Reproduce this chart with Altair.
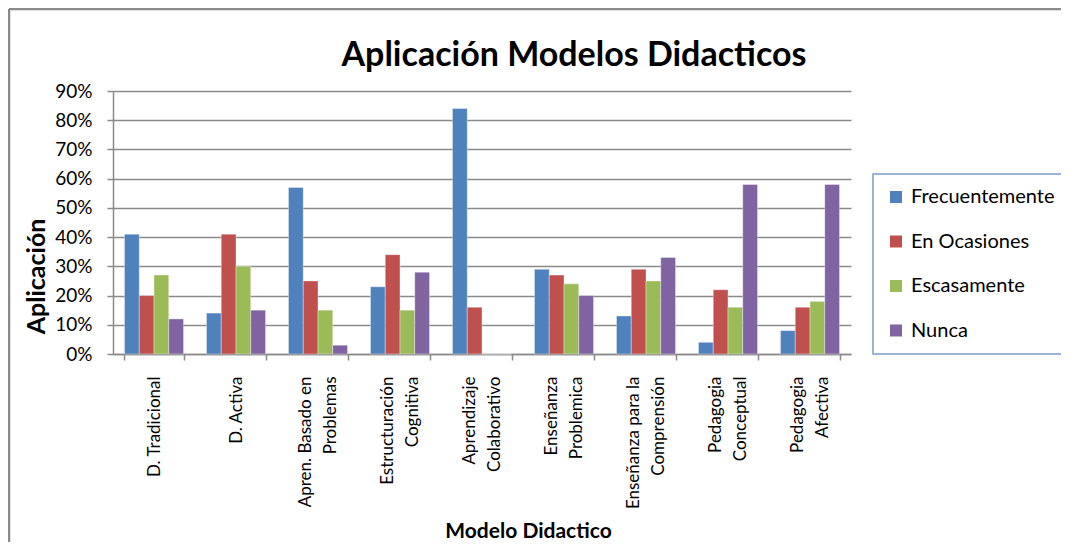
import altair as alt
import pandas as pd

chart_title = "Aplicación Modelos Didacticos"
categories = [
    "D. Tradicional",
    "D. Activa",
    "Apren. Basado en|Problemas",
    "Estructuración|Cognitiva",
    "Aprendizaje|Colaborativo",
    "Enseñanza|Problemica",
    "Enseñanza para la|Comprensión",
    "Pedagogia|Conceptual",
    "Pedagogia|Afectiva",
]
series = ["Frecuentemente", "En Ocasiones", "Escasamente", "Nunca"]
frecuentemente = [0.41, 0.14, 0.57, 0.23, 0.84, 0.29, 0.13, 0.04, 0.08]
en_ocasiones = [0.20, 0.41, 0.25, 0.34, 0.16, 0.27, 0.29, 0.22, 0.16]
escasamente = [0.27, 0.30, 0.15, 0.15, 0.00, 0.24, 0.25, 0.16, 0.18]
nunca = [0.12, 0.15, 0.03, 0.28, 0.00, 0.20, 0.33, 0.58, 0.58]
colors = ["#4F81BD", "#C0504D", "#9BBB59", "#8064A2"]
y_ticks = [0, 0.1, 0.2, 0.3, 0.4, 0.5, 0.6, 0.7, 0.8, 0.9]

rows = []
for name, vals in zip(series, [frecuentemente, en_ocasiones, escasamente, nunca]):
    for c, v in zip(categories, vals):
        rows.append({"modelo": c, "serie": name, "valor": v})
df = pd.DataFrame(rows)

FONT = "Lato"
GRAY = "#8a8a8a"

bars = alt.Chart(df).mark_bar(stroke="#ffffff", strokeWidth=0.6, strokeOpacity=0.6).encode(
    x=alt.X(
        "modelo:N",
        sort=categories,
        scale=alt.Scale(paddingInner=0.28, paddingOuter=0.14),
        axis=alt.Axis(
            title="Modelo Didactico",
            labelExpr="datum.value ? split(datum.value, '|') : ''",
            labelAngle=270,
            labelAlign="right",
            labelBaseline="middle",
            labelFontSize=17,
            labelLineHeight=25,
            labelPadding=16,
            labelOffset={"condition": {"test": "datum.value && indexof(datum.value, '|') >= 0", "value": -12.5}, "value": 0},
            tickSize=6,
            tickBand="extent",
            titleFontSize=21,
            titleFontWeight="bold",
            titleX=415,
            titleY=177,
            titleAnchor="middle",
            titleAlign="center",
            titleBaseline="middle",
        ),
    ),
    xOffset=alt.XOffset("serie:N", sort=series, scale=alt.Scale(paddingInner=0, paddingOuter=0)),
    y=alt.Y(
        "valor:Q",
        scale=alt.Scale(domain=[0, 0.9], nice=False),
        axis=alt.Axis(
            title="Aplicación",
            values=y_ticks,
            format=".0%",
            labelFontSize=19,
            labelPadding=15,
            tickSize=6,
            titleFontSize=25,
            titleFontWeight="bold",
            titleX=-77,
            titleY=185,
            titleAngle=270,
            titleAlign="center",
            titleBaseline="middle",
        ),
    ),
    color=alt.Color(
        "serie:N",
        sort=series,
        scale=alt.Scale(domain=series, range=colors),
        legend=alt.Legend(
            title=None,
            orient="none",
            legendX=760,
            legendY=83,
            strokeColor="#7A9CC8",
            padding=13,
            rowPadding=24.5,
            symbolType="square",
            symbolSize=144,
            symbolStrokeWidth=0,
            labelFontSize=20,
            labelOffset=5,
            labelColor="#000000",
        ),
    ),
)

title_layer = alt.Chart(pd.DataFrame({"t": [chart_title]})).mark_text(
    fontSize=34, fontWeight="bold", font=FONT, baseline="alphabetic", align="center", color="#000000"
).encode(text="t:N", x=alt.value(461), y=alt.value(-25))

border = alt.Chart(pd.DataFrame({"k": [0]})).mark_rule(color=GRAY, strokeWidth=2.5, clip=False).encode(
    x=alt.value(-104), x2=alt.value(948), y=alt.value(-82)
)
border_left = alt.Chart(pd.DataFrame({"k": [0]})).mark_rule(color=GRAY, strokeWidth=2.5, clip=False).encode(
    x=alt.value(-104), y=alt.value(-82), y2=alt.value(460)
)

chart = (
    alt.layer(bars, title_layer, border, border_left)
    .properties(
        width=738,
        height=263,
        autosize=alt.AutoSizeParams(type="none"),
        padding={"left": 105, "top": 83, "right": 210, "bottom": 188},
    )
    .configure(font=FONT)
    .configure_view(strokeWidth=0)
    .configure_axis(
        domainColor=GRAY,
        tickColor=GRAY,
        gridColor=GRAY,
        domainWidth=1.5,
        tickWidth=1.5,
        labelColor="#000000",
        titleColor="#000000",
        labelFont=FONT,
        titleFont=FONT,
    )
    .configure_axisX(grid=False)
    .configure_axisY(grid=True, gridWidth=1.3)
    .configure_legend(labelFont=FONT, strokeWidth=1.5)
)

chart.save("out.html", embed_options={"renderer": "svg", "actions": False})
